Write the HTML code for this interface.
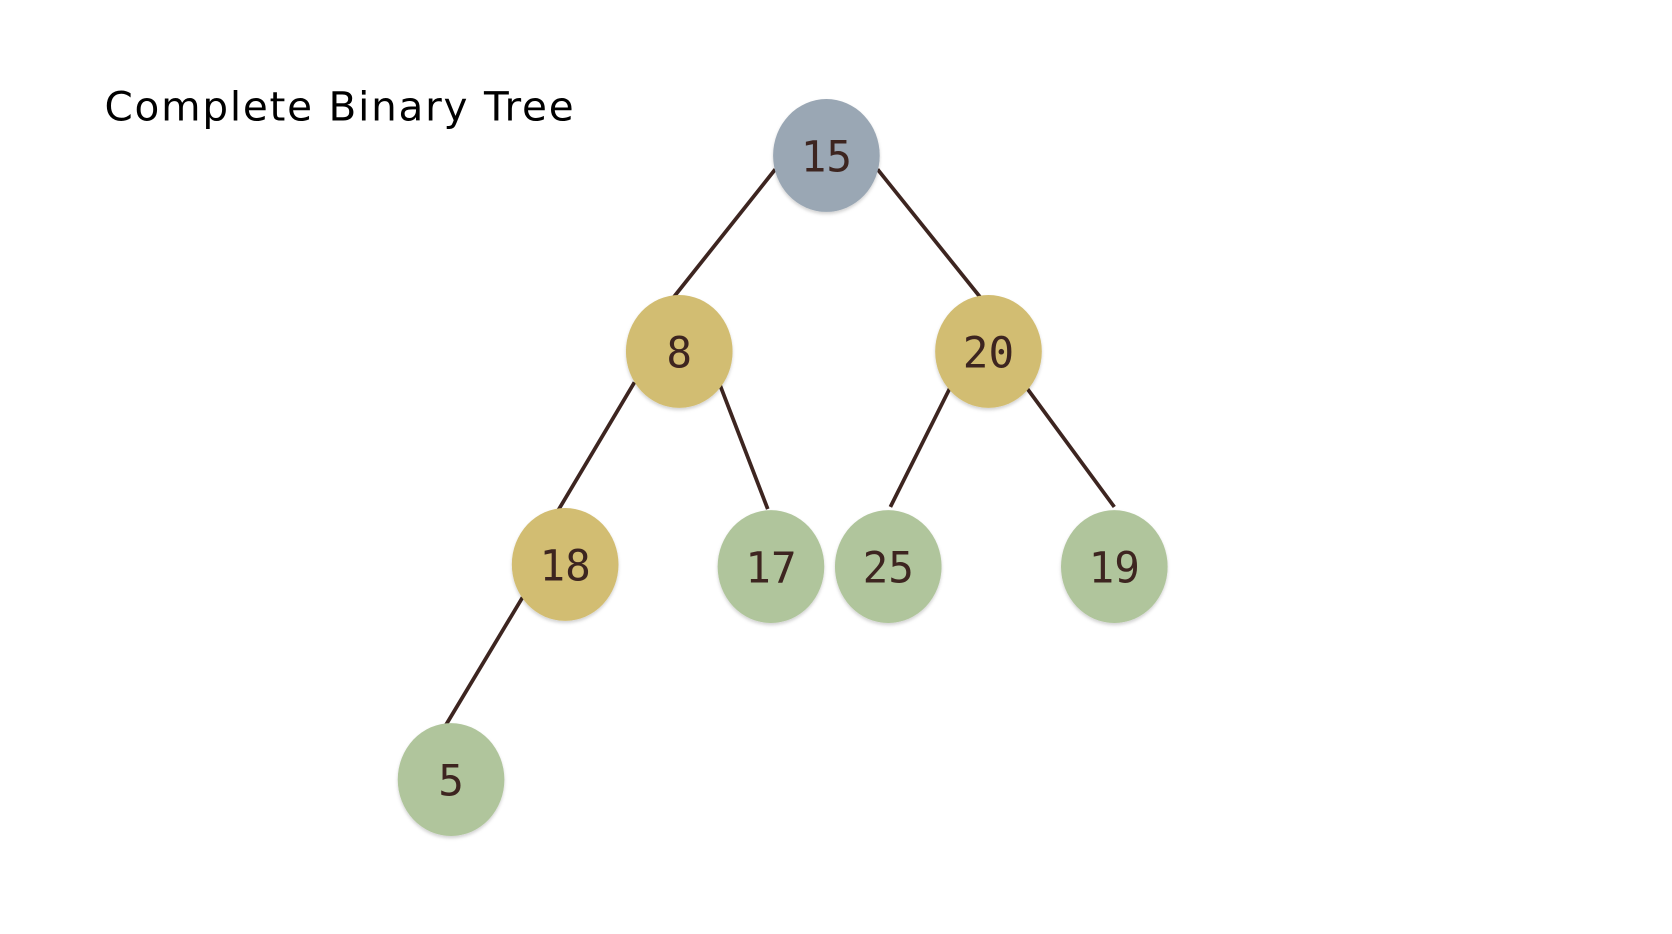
<!DOCTYPE html>
<html><head><meta charset="utf-8"><style>html,body{margin:0;padding:0;background:#fff}svg{display:block}</style></head>
<body>
<svg width="1672" height="934" viewBox="0 0 1568 877" preserveAspectRatio="none" xmlns="http://www.w3.org/2000/svg">
<defs><filter id="s" x="-20%" y="-20%" width="140%" height="150%"><feDropShadow dx="0" dy="2" stdDeviation="1.5" flood-color="#000" flood-opacity="0.18"/></filter></defs>
<text x="98" y="113" font-family="'DejaVu Sans','Liberation Sans',sans-serif" font-size="38" fill="#000" textLength="440" lengthAdjust="spacing">Complete Binary Tree</text>
<g stroke="#3d2520" stroke-width="3.5" fill="none">
<line x1="727" y1="159" x2="631" y2="280"/>
<line x1="823" y1="159" x2="920" y2="280"/>
<line x1="595" y1="359" x2="523" y2="480"/>
<line x1="675" y1="361" x2="720" y2="478"/>
<line x1="891" y1="364" x2="835" y2="476"/>
<line x1="962" y1="363" x2="1045" y2="476"/>
<line x1="490" y1="561" x2="418" y2="681"/>
</g>
<g filter="url(#s)">
<ellipse cx="775" cy="146" rx="50" ry="53" fill="#9aa7b4"/>
<ellipse cx="637" cy="330" rx="50" ry="53" fill="#d2bd72"/>
<ellipse cx="927" cy="330" rx="50" ry="53" fill="#d2bd72"/>
<ellipse cx="530" cy="530" rx="50" ry="53" fill="#d2bd72"/>
<ellipse cx="723" cy="532" rx="50" ry="53" fill="#b0c59c"/>
<ellipse cx="833" cy="532" rx="50" ry="53" fill="#b0c59c"/>
<ellipse cx="1045" cy="532" rx="50" ry="53" fill="#b0c59c"/>
<ellipse cx="423" cy="732" rx="50" ry="53" fill="#b0c59c"/>
</g>
<g font-family="'DejaVu Sans Mono','Liberation Mono',monospace" font-size="40" fill="#3d2520" text-anchor="middle">
<text x="775" y="161">15</text>
<text x="637" y="345">8</text>
<text x="927" y="345">20</text>
<text x="530" y="545">18</text>
<text x="723" y="547">17</text>
<text x="833" y="547">25</text>
<text x="1045" y="547">19</text>
<text x="423" y="747">5</text>
</g>
</svg>
</body></html>
